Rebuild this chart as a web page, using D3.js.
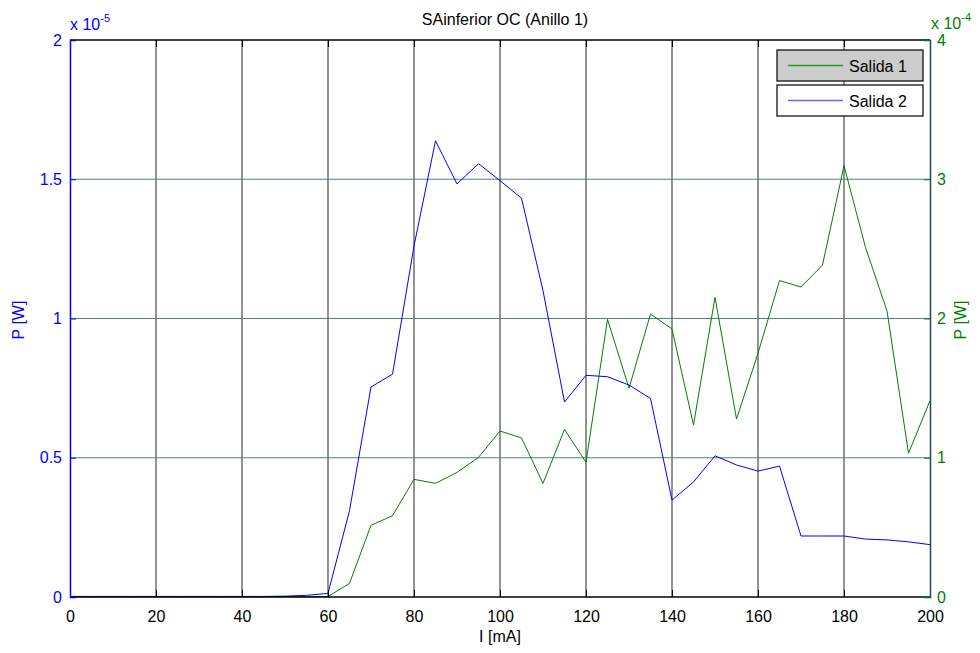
<!DOCTYPE html>
<html>
<head>
<meta charset="utf-8">
<script src="https://cdn.jsdelivr.net/npm/d3@7"></script>
<style>
  html, body { margin: 0; padding: 0; background: #fff; }
  svg { display: block; font-family: "Liberation Sans", Arial, sans-serif; }
</style>
</head>
<body>
<svg id="chart" width="980" height="653"></svg>
<script>
// Current (mA), sampled every 5 mA
const current = [0,5,10,15,20,25,30,35,40,45,50,55,60,65,70,75,80,85,90,95,100,
                 105,110,115,120,125,130,135,140,145,150,155,160,165,170,175,180,185,190,195,200];

// Salida 1 — right axis, units of 1e-4 W
const salida1 = [0.003,0.003,0.003,0.003,0.003,0.003,0.003,0.003,0.003,0.003,0.003,0.003,0.003,
                 0.098,0.515,0.584,0.845,0.816,0.895,1.003,1.192,1.142,0.816,1.204,0.967,
                 1.994,1.499,2.032,1.925,1.235,2.152,1.278,1.75,2.272,2.226,2.384,3.097,
                 2.511,2.054,1.032,1.41];

// Salida 2 — left axis, units of 1e-5 W
const salida2 = [0.002,0.002,0.002,0.002,0.002,0.002,0.002,0.002,0.002,0.002,0.003,0.006,0.013,
                 0.31,0.754,0.80,1.26,1.638,1.483,1.556,1.495,1.432,1.10,0.70,0.796,
                 0.791,0.761,0.713,0.348,0.413,0.507,0.474,0.452,0.47,0.219,0.219,0.219,
                 0.208,0.205,0.198,0.188];

const xTicks = [0,20,40,60,80,100,120,140,160,180,200];
const yLeftTicks = [0,0.5,1,1.5,2];
const yRightTicks = [0,1,2,3,4];

const svg = d3.select("#chart");
const m = { left: 70, right: 930, top: 40, bottom: 597 };

const x = d3.scaleLinear().domain([0, 200]).range([m.left, m.right]);
const yL = d3.scaleLinear().domain([0, 2]).range([m.bottom, m.top]);
const yR = d3.scaleLinear().domain([0, 4]).range([m.bottom, m.top]);

const BLUE = "#0000ff", GREEN = "#008000";
const FONT = "Liberation Sans, Arial, sans-serif";

// grid
svg.append("g").selectAll("line").data(xTicks.slice(1, -1)).join("line")
  .attr("x1", d => x(d)).attr("x2", d => x(d))
  .attr("y1", m.top).attr("y2", m.bottom)
  .attr("stroke", "#4a4a4a").attr("stroke-width", 1.2);
svg.append("g").selectAll("line").data(yLeftTicks.slice(1, -1)).join("line")
  .attr("x1", m.left).attr("x2", m.right)
  .attr("y1", d => yL(d)).attr("y2", d => yL(d))
  .attr("stroke", "#4f8088").attr("stroke-width", 1.2);

// data lines
const line1 = d3.line().x((d, i) => x(current[i])).y(d => yR(d));
const line2 = d3.line().x((d, i) => x(current[i])).y(d => yL(d));
svg.append("path").datum(salida1).attr("d", line1)
  .attr("fill", "none").attr("stroke", GREEN).attr("stroke-width", 1);
svg.append("path").datum(salida2).attr("d", line2)
  .attr("fill", "none").attr("stroke", BLUE).attr("stroke-width", 1);

// frame
svg.append("line").attr("x1", m.left).attr("x2", m.right).attr("y1", m.top).attr("y2", m.top)
  .attr("stroke", "#000").attr("stroke-width", 1.5);
svg.append("line").attr("x1", m.left).attr("x2", m.right).attr("y1", m.bottom).attr("y2", m.bottom)
  .attr("stroke", "#000").attr("stroke-width", 1.5);

// x axis (bottom) and top ticks
const xAxis = svg.append("g").attr("transform", `translate(0,${m.bottom})`)
  .call(d3.axisBottom(x).tickValues(xTicks).tickSize(-7).tickPadding(14).tickFormat(d3.format("d")));
xAxis.select(".domain").remove();
xAxis.selectAll("line").attr("stroke", "#000");
xAxis.selectAll("text").attr("font-size", 16).attr("fill", "#000").attr("font-family", FONT);

const xTop = svg.append("g").attr("transform", `translate(0,${m.top})`)
  .call(d3.axisTop(x).tickValues(xTicks).tickSize(-7).tickFormat(""));
xTop.select(".domain").remove();
xTop.selectAll("line").attr("stroke", "#000");

// left axis
const yAxisL = svg.append("g").attr("transform", `translate(${m.left},0)`)
  .call(d3.axisLeft(yL).tickValues(yLeftTicks).tickSize(-6).tickPadding(8).tickFormat(d => d));
yAxisL.select(".domain").attr("stroke", BLUE).attr("stroke-width", 1.5);
yAxisL.selectAll("line").attr("stroke", BLUE);
yAxisL.selectAll("text").attr("font-size", 16).attr("fill", BLUE).attr("font-family", FONT);

// right axis
const yAxisR = svg.append("g").attr("transform", `translate(${m.right},0)`)
  .call(d3.axisRight(yR).tickValues(yRightTicks).tickSize(-6).tickPadding(7).tickFormat(d => d));
yAxisR.select(".domain").attr("stroke", "#1c4a50").attr("stroke-width", 1.5);
yAxisR.selectAll("line").attr("stroke", GREEN);
yAxisR.selectAll("text").attr("font-size", 16).attr("fill", GREEN).attr("font-family", FONT);

// exponent labels
const expL = svg.append("text").attr("x", 70).attr("y", 30).attr("fill", BLUE).attr("font-size", 16);
expL.append("tspan").text("x 10");
expL.append("tspan").attr("dy", -8).attr("font-size", 11).text("-5");
const expR = svg.append("text").attr("x", 931).attr("y", 29).attr("fill", GREEN).attr("font-size", 16);
expR.append("tspan").text("x 10");
expR.append("tspan").attr("dy", -8).attr("font-size", 11).text("-4");

// title and axis labels
svg.append("text").attr("x", 505).attr("y", 25).attr("text-anchor", "middle")
  .attr("font-size", 16).attr("fill", "#000").text("SAinferior OC (Anillo 1)");
svg.append("text").attr("x", 500).attr("y", 642).attr("text-anchor", "middle")
  .attr("font-size", 16).attr("fill", "#000").text("I [mA]");
svg.append("text").attr("transform", "translate(24,320) rotate(-90)").attr("text-anchor", "middle")
  .attr("font-size", 16).attr("fill", BLUE).text("P [W]");
svg.append("text").attr("transform", "translate(966,320) rotate(-90)").attr("text-anchor", "middle")
  .attr("font-size", 16).attr("fill", GREEN).text("P [W]");

// legend
const legend = [
  { name: "Salida 1", color: "#22a022", fill: "#cccccc", y: 50 },
  { name: "Salida 2", color: "#6666ff", fill: "#ffffff", y: 85 }
];
const lg = svg.append("g").selectAll("g").data(legend).join("g")
  .attr("transform", d => `translate(777,${d.y})`);
lg.append("rect").attr("width", 146).attr("height", 31)
  .attr("fill", d => d.fill).attr("stroke", "#000").attr("stroke-width", 1.2);
lg.append("path").attr("d", "M11,15.5H66")
  .style("stroke", d => d.color).style("stroke-width", "1.3px").style("fill", "none");
lg.append("text").attr("x", 72).attr("y", 21.5).attr("font-size", 16).attr("fill", "#000")
  .attr("font-family", FONT).text(d => d.name);
</script>
</body>
</html>
